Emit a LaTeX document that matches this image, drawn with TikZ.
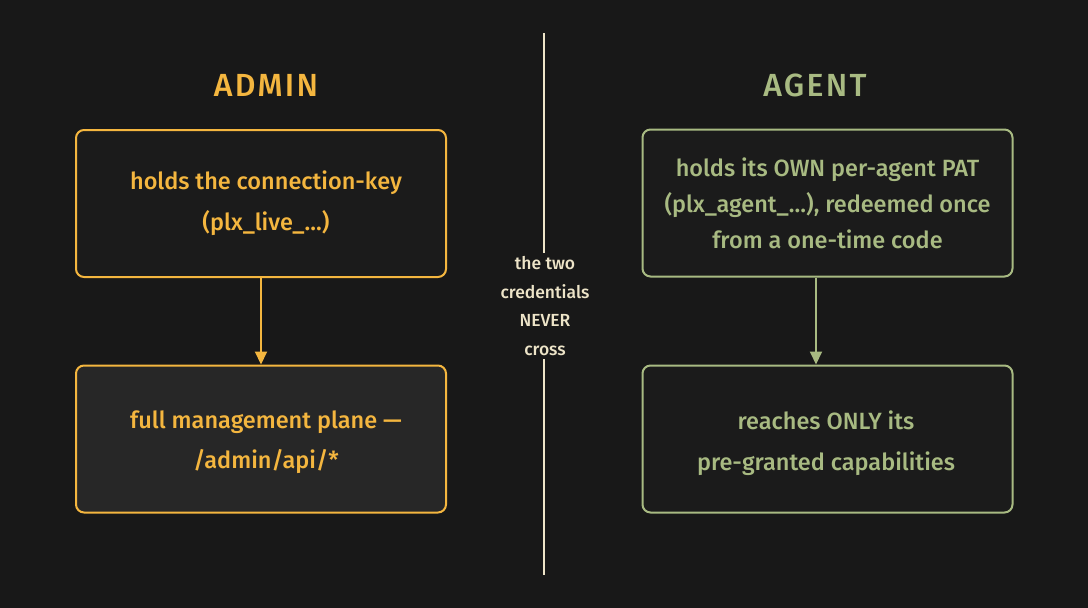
\documentclass[tikz,border=0pt]{standalone}
\usepackage{fontspec}
\setmainfont{Fira Sans Medium}
\usetikzlibrary{arrows.meta}
\definecolor{bg}{HTML}{181818}
\definecolor{amber}{HTML}{F4B63F}
\definecolor{sage}{HTML}{A8BA82}
\definecolor{cream}{HTML}{EDE4C8}
\definecolor{boxa}{HTML}{1B1B1B}
\definecolor{boxb}{HTML}{272727}
\tikzset{
  card/.style={draw, line width=2pt, rounded corners=8pt, minimum width=370pt, minimum height=147pt, inner sep=0pt},
  cardtext/.style={align=center, font=\fontsize{23.5}{40.5}\selectfont, inner sep=0pt},
  tighttext/.style={cardtext, font=\fontsize{23.5}{36}\selectfont},
  heading/.style={font=\fontsize{32}{34}\selectfont\addfontfeature{LetterSpace=7}},
  flow/.style={line width=2pt, -{Triangle[length=13pt,width=12pt]}},
  midtext/.style={text=cream, align=center, font=\fontsize{17.5}{28.5}\selectfont},
}
\begin{document}
\begin{tikzpicture}[x=1pt,y=-1pt]
\fill[bg] (0,0) rectangle (1088,608);
\useasboundingbox (0,0) rectangle (1088,608);
% headings
\node[heading, text=amber] (adminh) at (266,85) {ADMIN};
\node[heading, text=sage] (agenth) at (815,85) {AGENT};
% cards
\node[card, draw=amber, fill=boxa] (a1) at (261,203.5) {};
\node[cardtext, text=amber] (a1t) at (266,203) {holds the connection-key\\(plx\_live\_…)};
\node[card, draw=amber, fill=boxb] (a2) at (261,439) {};
\node[cardtext, text=amber] (a2t) at (266,442) {full management plane —\\/admin/api/*};
\node[card, draw=sage, fill=boxa] (g1) at (827.5,203) {};
\node[tighttext, text=sage] (g1t) at (827.5,203) {holds its OWN per-agent PAT\\(plx\_agent\_…), redeemed once\\from a one-time code};
\node[card, draw=sage, fill=boxa] (g2) at (827.5,439) {};
\node[cardtext, text=sage] (g2t) at (826,443) {reaches ONLY its\\pre-granted capabilities};
% arrows
\draw[flow, amber] (a1.south -| 261,0) -- (a2.north -| 261,0);
\draw[flow, sage] (g1.south -| 816,0) -- (g2.north -| 816,0);
% divider
\node[midtext] (mid) at (545,306) {the two\\credentials\\NEVER\\cross};
\coordinate (dtop) at (544,33);
\coordinate (dbot) at (544,575);
\draw[cream, line width=1.5pt] (dtop) -- (mid.north -| dtop);
\draw[cream, line width=1.5pt] (mid.south -| dbot) -- (dbot);
\end{tikzpicture}
\end{document}
